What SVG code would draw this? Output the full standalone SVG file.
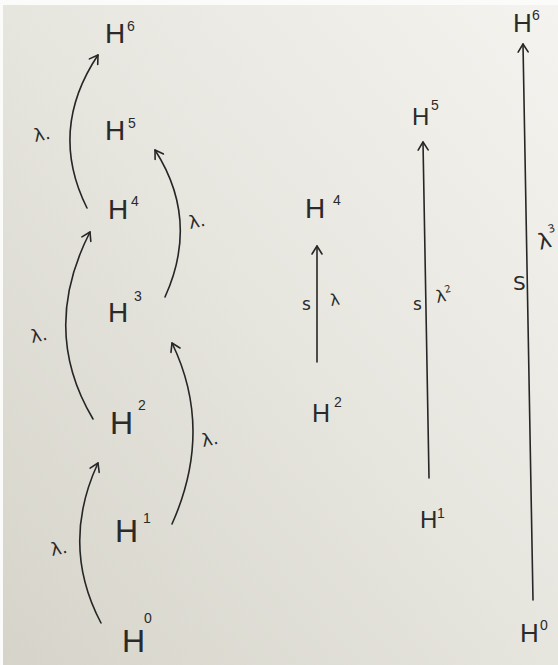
<svg xmlns="http://www.w3.org/2000/svg" width="558" height="665" viewBox="0 0 558 665">
<defs>
<linearGradient id="paper" x1="0" y1="1" x2="1" y2="0">
<stop offset="0" stop-color="#d6d4ca"/>
<stop offset="0.5" stop-color="#e6e5de"/>
<stop offset="1" stop-color="#f4f3ef"/>
</linearGradient>
<marker id="arr" viewBox="0 0 12 12" refX="10" refY="6" markerWidth="12" markerHeight="12" markerUnits="userSpaceOnUse" orient="auto">
<path d="M2,1 L10,6 L2,11" fill="none" stroke="#262626" stroke-width="1.6" stroke-linecap="round" stroke-linejoin="round"/>
</marker>
<style>
.h{font-family:"Liberation Sans","DejaVu Sans",sans-serif;fill:#2a2a2a;font-size:28px}
.h2{font-size:32px}
.sup{font-family:"Liberation Sans","DejaVu Sans",sans-serif;fill:#2a2a2a;font-size:14px}
.lab{font-family:"DejaVu Sans","Liberation Sans",sans-serif;fill:#2a2a2a;font-size:18px}
.e{fill:none;stroke:#262626;stroke-width:1.6;stroke-linecap:round;marker-end:url(#arr)}
</style>
</defs>
<rect width="558" height="665" fill="#fbfbfa"/>
<rect x="3" y="5" width="555" height="660" fill="url(#paper)"/>

<g id="connectors">
<path class="e" d="M101,623 Q60,545 98,463"/>
<path class="e" d="M172,524 Q214,430 172,343"/>
<path class="e" d="M93,419 Q40,330 90,232"/>
<path class="e" d="M165,297 Q200,220 155,150"/>
<path class="e" d="M87,208 Q48,130 98,55"/>
<path class="e" d="M317,362 L317,246"/>
<path class="e" d="M429,478 L423,142"/>
<path class="e" d="M533,600 L523,44"/>
</g>

<g id="edge-labels">
<text class="lab" transform="translate(35,142) rotate(-12)">λ.</text>
<text class="lab" transform="translate(190,229) rotate(-12)">λ.</text>
<text class="lab" transform="translate(32,343) rotate(-12)">λ.</text>
<text class="lab" transform="translate(203,447) rotate(-12)">λ.</text>
<text class="lab" transform="translate(52,556) rotate(-12)">λ.</text>
<text class="lab" x="302" y="310" style="font-size:17px">s</text>
<text class="lab" transform="translate(331,306) rotate(-10)" style="font-size:16px">λ</text>
<text class="lab" x="413" y="310" style="font-size:17px">s</text>
<text class="lab" transform="translate(437,303) rotate(-12)" style="font-size:17px">λ<tspan font-size="10" dy="-8">2</tspan></text>
<text class="lab" x="513" y="290" style="font-size:20px">S</text>
<text class="lab" transform="translate(540,250) rotate(-15)" style="font-size:22px">λ<tspan font-size="11" dy="-14">3</tspan></text>
</g>

<g id="L6"><text class="h" x="105" y="43">H</text><text class="sup" x="127" y="31">6</text></g>
<g id="L5"><text class="h" x="105" y="140">H</text><text class="sup" x="128" y="128">5</text></g>
<g id="L4"><text class="h" x="108" y="219">H</text><text class="sup" x="131" y="206">4</text></g>
<g id="L3"><text class="h" x="108" y="322">H</text><text class="sup" x="134" y="301">3</text></g>
<g id="L2"><text class="h h2" x="110" y="434">H</text><text class="sup" x="138" y="410">2</text></g>
<g id="L1"><text class="h h2" x="115" y="542">H</text><text class="sup" x="143" y="523">1</text></g>
<g id="L0"><text class="h h2" x="122" y="652">H</text><text class="sup" x="144" y="623">0</text></g>

<g id="M4"><text class="h" x="305" y="218">H</text><text class="sup" x="333" y="205">4</text></g>
<g id="M2"><text class="h" x="312" y="422" style="font-size:25px">H</text><text class="sup" x="334" y="407">2</text></g>
<g id="R5"><text class="h" x="412" y="125" style="font-size:24px">H</text><text class="sup" x="431" y="110">5</text></g>
<g id="R1"><text class="h" x="420" y="528" style="font-size:24px">H</text><text class="sup" x="437" y="518">1</text></g>
<g id="F6"><text class="h" x="513" y="32" style="font-size:26px">H</text><text class="sup" x="532" y="20">6</text></g>
<g id="F0"><text class="h" x="520" y="642" style="font-size:26px">H</text><text class="sup" x="540" y="630">0</text></g>
</svg>
